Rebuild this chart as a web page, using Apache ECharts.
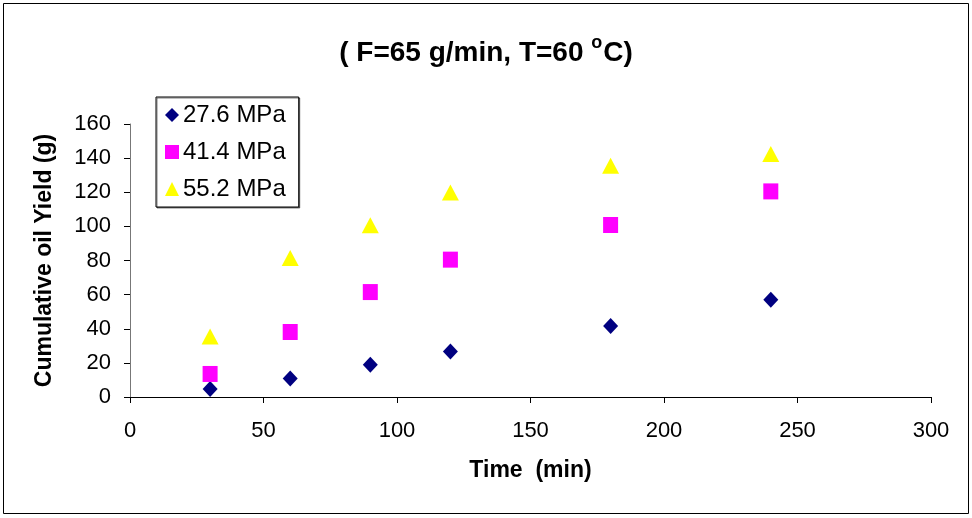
<!DOCTYPE html>
<html><head><meta charset="utf-8">
<script src="https://cdn.jsdelivr.net/npm/echarts@6/dist/echarts.min.js"></script>
<style>html,body{margin:0;padding:0;background:#fff}#c{width:972px;height:518px}</style>
</head><body><div id="c"></div>
<script>
var times = [30, 60, 90, 120, 180, 240];
var seriesNames = ['27.6 MPa', '41.4 MPa', '55.2 MPa'];
var yield276 = [4.7, 10.9, 18.9, 26.7, 41.6, 57.0];
var yield414 = [13.5, 38.1, 61.5, 80.5, 100.8, 120.5];
var yield552 = [35.5, 81.5, 100.6, 119.9, 135.6, 142.4];
var xTicks = [0, 50, 100, 150, 200, 250, 300];
var yTicks = [0, 20, 40, 60, 80, 100, 120, 140, 160];

function pairs(ys){ return times.map(function(t,i){ return [t, ys[i]]; }); }
var F = 'Arial, "Liberation Sans", sans-serif';
var chart = echarts.init(document.getElementById('c'));
chart.setOption({
  animation: false,
  backgroundColor: '#fff',
  graphic: [{type:'rect', shape:{x:3.5,y:3.5,width:965,height:510}, style:{fill:'none', stroke:'#000', lineWidth:1}}],
  title: {
    text: '{a|( F=65 g/min, T=60 }{s|o}{a|C)}',
    left: 'center', top: 29,
    textStyle: { rich: {
      a: {fontFamily:F, fontWeight:'bold', fontSize:28, color:'#000', verticalAlign:'bottom', lineHeight:33},
      s: {fontFamily:F, fontWeight:'bold', fontSize:18, color:'#000', verticalAlign:'top', lineHeight:33, padding:[0,1,12,0]}
    }}
  },
  legend: {
    orient: 'vertical', left: 156, top: 97,
    padding: [6, 13, 6, 9], itemGap: 13, itemWidth: 14, itemHeight: 14,
    borderColor: '#000', borderWidth: 1, backgroundColor:'#fff',
    shadowColor: 'rgba(0,0,0,0.5)', shadowOffsetX: 1, shadowOffsetY: 1,
    textStyle: {fontFamily:F, fontSize:24, color:'#000', lineHeight:24, padding:[0,0,0,-1]},
    data: [
      {name: seriesNames[0], icon: 'diamond', itemStyle:{opacity:1}},
      {name: seriesNames[1], icon: 'rect', itemStyle:{opacity:1}},
      {name: seriesNames[2], icon: 'triangle', itemStyle:{opacity:1}}
    ]
  },
  grid: {left: 130, right: 41, top: 124, bottom: 121},
  xAxis: {
    type: 'value', min: xTicks[0], max: xTicks[xTicks.length-1], interval: 50,
    name: 'Time  (min)', nameLocation: 'middle', nameGap: 62,
    nameTextStyle: {fontFamily:F, fontWeight:'bold', fontSize:23, color:'#000'},
    axisLine: {onZero:false, lineStyle:{color:'#000', width:1}},
    axisTick: {show:true, length:6, lineStyle:{color:'#000'}},
    axisLabel: {fontFamily:F, fontSize:22, color:'#000', margin:23},
    splitLine: {show:false}
  },
  yAxis: {
    type: 'value', min: yTicks[0], max: yTicks[yTicks.length-1], interval: 20,
    name: 'Cumulative oil Yield (g)', nameLocation: 'middle', nameGap: 74,
    nameTextStyle: {fontFamily:F, fontWeight:'bold', fontSize:23, color:'#000'},
    axisLine: {show:true, lineStyle:{color:'#777', width:1}},
    axisTick: {show:true, length:6, lineStyle:{color:'#000'}},
    axisLabel: {fontFamily:F, fontSize:22, color:'#000', margin:19},
    splitLine: {show:false}
  },
  series: [
    {name: seriesNames[0], type:'scatter', symbol:'diamond', symbolSize:[15,16], itemStyle:{color:'#000080', opacity:1}, data: pairs(yield276)},
    {name: seriesNames[1], type:'scatter', symbol:'rect', symbolSize:[15,16], itemStyle:{color:'#FF00FF', opacity:1}, data: pairs(yield414)},
    {name: seriesNames[2], type:'scatter', symbol:'triangle', symbolSize:[17,16], itemStyle:{color:'#FFFF00', opacity:1}, data: pairs(yield552)}
  ]
});
</script></body></html>
